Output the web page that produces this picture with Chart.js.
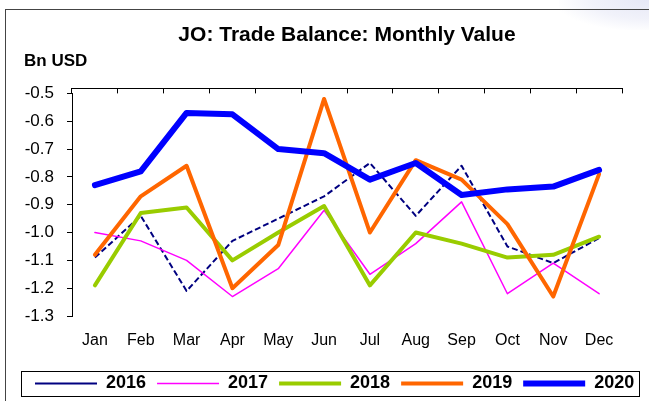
<!DOCTYPE html>
<html>
<head>
<meta charset="utf-8">
<script src="https://cdn.jsdelivr.net/npm/chart.js@4.4.0/dist/chart.umd.min.js"></script>
<style>
    body { margin: 0; background: #fff; overflow: hidden; }
    .frame { position: absolute; left: 5px; top: 9px; width: 700px; height: 500px; border-left: 1px solid #444; border-top: 1px solid #444; }
    .corner { position: absolute; right: 0; top: 0; width: 90px; height: 30px; background: radial-gradient(ellipse at 100% 0%, #e6e8f6 0%, #f1f2fa 45%, rgba(255,255,255,0) 75%); }
    canvas { position: absolute; left: 0; top: 0; }
</style>
</head>
<body>
<div class="corner"></div>
<div class="frame"></div>
<canvas class="trade-chart" width="649" height="401"></canvas>
<script>
const months = ['Jan', 'Feb', 'Mar', 'Apr', 'May', 'Jun', 'Jul', 'Aug', 'Sep', 'Oct', 'Nov', 'Dec'];
const years = ['2016', '2017', '2018', '2019', '2020'];
const y2016 = [-1.09, -0.94, -1.21, -1.03, -0.95, -0.87, -0.75, -0.94, -0.76, -1.05, -1.11, -1.02];
const y2017 = [-1.00, -1.03, -1.10, -1.23, -1.13, -0.92, -1.15, -1.04, -0.89, -1.22, -1.11, -1.22];
const y2018 = [-1.19, -0.93, -0.91, -1.10, -1.00, -0.905, -1.19, -1.00, -1.04, -1.09, -1.08, -1.015];
const y2019 = [-1.08, -0.87, -0.76, -1.20, -1.045, -0.52, -1.00, -0.74, -0.81, -0.97, -1.23, -0.79];
const y2020 = [-0.83, -0.78, -0.57, -0.575, -0.70, -0.715, -0.81, -0.75, -0.865, -0.845, -0.835, -0.775];
const yTicks = [-0.5, -0.6, -0.7, -0.8, -0.9, -1.0, -1.1, -1.2, -1.3];

Chart.defaults.font.family = '"Liberation Sans", Arial, sans-serif';
Chart.defaults.color = '#000';

// box round the legend, like the excel one
const legendBox = {
    id: 'legendBox',
    afterDraw(chart) {
        const boxes = chart.legend.legendHitBoxes;
        if (!boxes || !boxes.length) return;
        const first = boxes[0];
        const last = boxes[boxes.length - 1];
        const mid = first.top + first.height / 2;
        const ctx = chart.ctx;
        const x1 = Math.round(first.left - 14) + 0.5;
        const x2 = Math.round(last.left + last.width + 5) + 0.5;
        ctx.save();
        ctx.strokeStyle = '#000';
        ctx.lineWidth = 1;
        ctx.strokeRect(x1, Math.round(mid - 12.5) + 0.5, x2 - x1, 25);
        ctx.restore();
    }
};

function line(label, data, color, width, order, dash) {
    return {
        label: label,
        data: data,
        borderColor: color,
        backgroundColor: color,
        borderWidth: width,
        borderDash: dash || [],
        borderCapStyle: dash ? 'butt' : 'round',
        borderJoinStyle: 'round',
        pointRadius: 0,
        tension: 0,
        fill: false,
        clip: false,
        order: order
    };
}

new Chart(document.querySelector('.trade-chart').getContext('2d'), {
    type: 'line',
    data: {
        labels: months,
        datasets: [
            line(years[0], y2016, '#000080', 2, 5, [6, 3]),
            line(years[1], y2017, '#ff00ff', 1.5, 4),
            line(years[2], y2018, '#99cc00', 4, 3),
            line(years[3], y2019, '#ff6600', 4, 2),
            line(years[4], y2020, '#0000ff', 6, 1)
        ]
    },
    plugins: [legendBox],
    options: {
        responsive: false,
        animation: false,
        layout: {
            padding: { left: 24, right: 0, top: 10, bottom: -6.5 }
        },
        plugins: {
            title: {
                display: true,
                text: 'JO: Trade Balance: Monthly Value',
                fullSize: false,
                font: { size: 21, weight: 'bold' },
                padding: { top: 12.5, bottom: 2 }
            },
            subtitle: {
                display: true,
                text: 'Bn USD',
                align: 'start',
                font: { size: 17, weight: 'bold' },
                padding: { top: 1, bottom: 22.3 }
            },
            legend: {
                position: 'bottom',
                align: 'start',
                labels: {
                    usePointStyle: true,
                    pointStyle: 'line',
                    pointStyleWidth: 62,
                    padding: 11,
                    font: { size: 18, weight: 'bold' },
                    sort: (a, b) => a.datasetIndex - b.datasetIndex
                }
            },
            tooltip: { enabled: false }
        },
        scales: {
            x: {
                position: 'bottom',
                offset: true,
                grid: { display: false, drawTicks: false },
                border: { display: false },
                ticks: { font: { size: 16 }, padding: 20, maxRotation: 0, autoSkip: false },
                afterFit: (scale) => { scale.height = 52.5; }
            },
            x2: {
                type: 'category',
                labels: months,
                position: 'top',
                offset: true,
                grid: { offset: true, drawOnChartArea: false, tickLength: -5, color: '#000', lineWidth: 1 },
                border: { display: true, color: '#000', width: 1 },
                ticks: { display: false }
            },
            y: {
                min: -1.3,
                max: -0.5,
                afterBuildTicks: (scale) => { scale.ticks = yTicks.map(v => ({ value: v })); },
                grid: { drawOnChartArea: false, tickLength: 5, color: '#000', lineWidth: 1 },
                border: { display: true, color: '#000', width: 1 },
                ticks: { font: { size: 17 }, padding: 13, callback: (v) => Number(v).toFixed(1) },
                afterFit: (scale) => { scale.width = 48; }
            },
            yR: {
                position: 'right',
                grid: { display: false, drawTicks: false },
                border: { display: false },
                ticks: { display: false },
                afterFit: (scale) => { scale.width = 27; }
            }
        }
    }
});
</script>
</body>
</html>
